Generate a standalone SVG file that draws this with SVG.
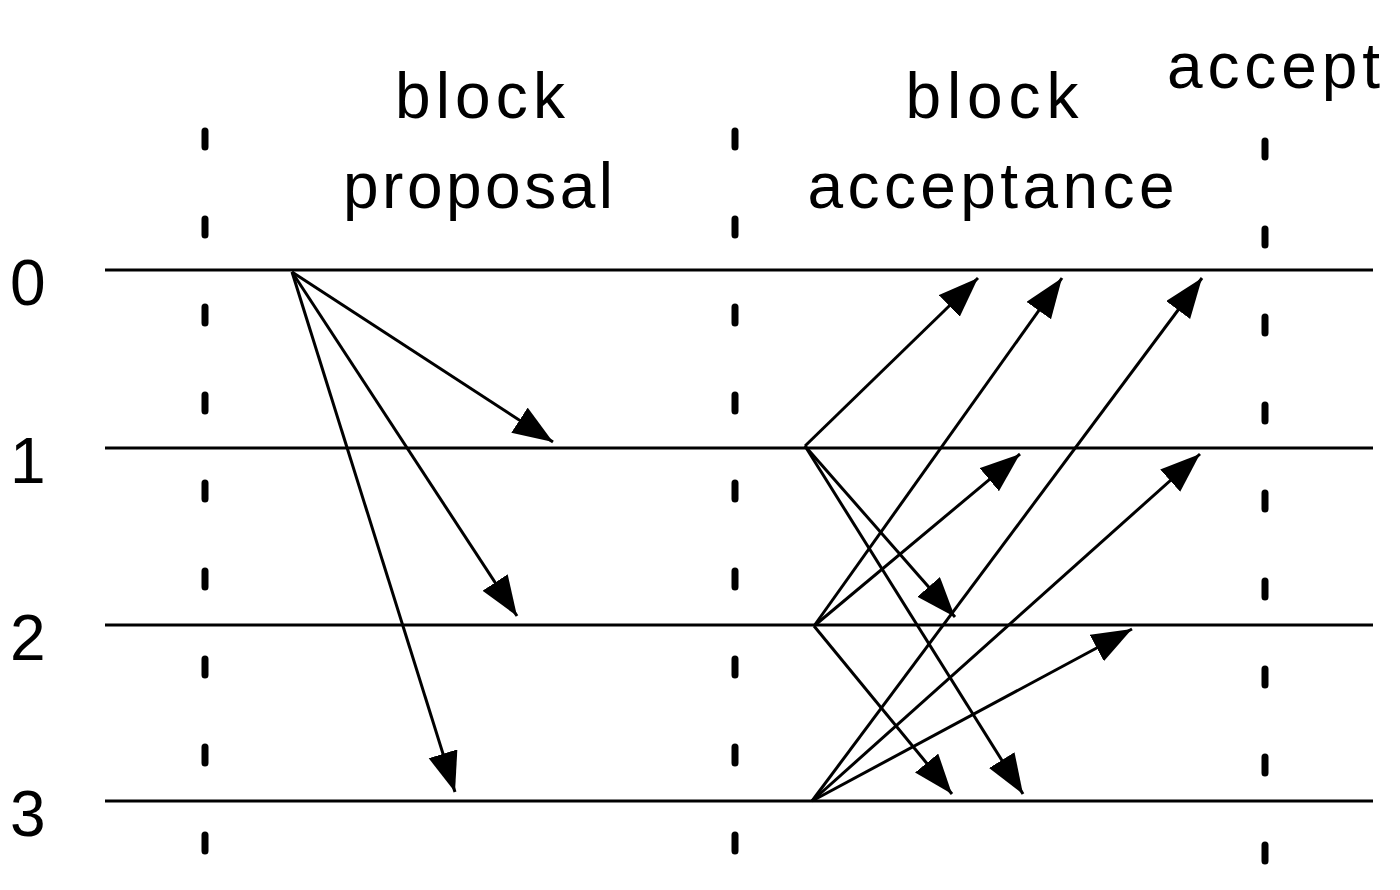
<svg xmlns="http://www.w3.org/2000/svg" width="1400" height="890" viewBox="0 0 1400 890">
<style>
text{font-family:"Liberation Sans",Arial,sans-serif;font-size:64px;fill:#000}
.h{stroke:#000;stroke-width:3}
.d{stroke:#000;stroke-width:7;stroke-linecap:round;stroke-dasharray:16 72}
.a{stroke:#000;stroke-width:3;marker-end:url(#ah)}
</style>
<defs><marker id="ah" markerUnits="userSpaceOnUse" markerWidth="42" markerHeight="32" refX="40" refY="15" orient="auto"><path d="M0,0 L40,15 L0,30 z" fill="#000"/></marker></defs>
<rect width="1400" height="890" fill="#fff"/>
<g id="labels">
<text x="480" y="118" text-anchor="middle" textLength="170">block</text>
<text x="478" y="208" text-anchor="middle" textLength="270">proposal</text>
<text x="992" y="118" text-anchor="middle" textLength="173">block</text>
<text x="991" y="208" text-anchor="middle" textLength="367">acceptance</text>
<text x="1167" y="88" textLength="213">accept</text>
<text x="10" y="305">0</text>
<text x="10" y="483">1</text>
<text x="10" y="660">2</text>
<text x="10" y="836">3</text>
</g>
<g id="timelines">
<line class="h" x1="105" y1="270" x2="1373" y2="270"/>
<line class="h" x1="105" y1="448" x2="1373" y2="448"/>
<line class="h" x1="105" y1="625" x2="1373" y2="625"/>
<line class="h" x1="105" y1="801" x2="1373" y2="801"/>
<line class="d" x1="205" y1="131" x2="205" y2="860"/>
<line class="d" x1="735" y1="131" x2="735" y2="860"/>
<line class="d" x1="1265" y1="141" x2="1265" y2="870"/>
</g>
<g id="connectors">
<line class="a" x1="292" y1="272" x2="553" y2="442"/>
<line class="a" x1="292" y1="272" x2="517" y2="616"/>
<line class="a" x1="292" y1="272" x2="455" y2="792"/>
<line class="a" x1="805" y1="446" x2="978" y2="278"/>
<line class="a" x1="805" y1="446" x2="955" y2="617"/>
<line class="a" x1="805" y1="446" x2="1023" y2="794"/>
<line class="a" x1="814" y1="626" x2="1062" y2="278"/>
<line class="a" x1="814" y1="626" x2="1020" y2="454"/>
<line class="a" x1="814" y1="626" x2="952" y2="794"/>
<line class="a" x1="812" y1="801" x2="1202" y2="278"/>
<line class="a" x1="812" y1="801" x2="1200" y2="454"/>
<line class="a" x1="812" y1="801" x2="1132" y2="629"/>
</g>
</svg>
